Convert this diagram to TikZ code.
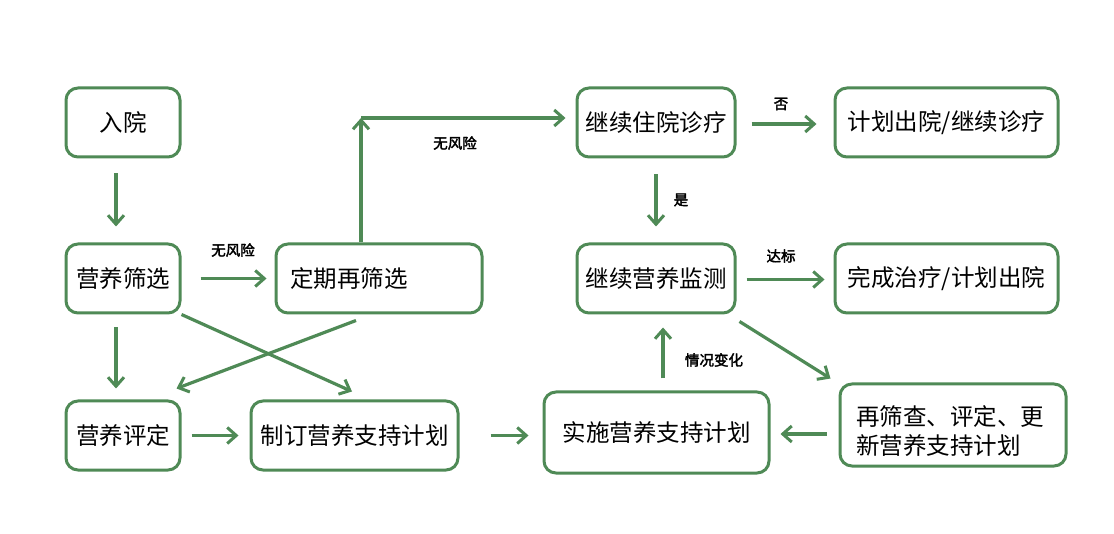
\documentclass[tikz,border=0pt]{standalone}
\usepackage{fontspec}
\setmainfont{Noto Sans CJK SC}
\newfontfamily\cjkb[FakeBold=2.5]{Noto Sans CJK SC}
\usetikzlibrary{arrows.meta}
\definecolor{gline}{HTML}{4F8A56}
\tikzset{
  box/.style={draw=gline, line width=3pt, rounded corners=12pt, fill=white,
    font=\fontsize{23.5}{28}\selectfont, inner sep=0pt, align=center},
  arr/.style={draw=gline, line width=3.2pt, -{Straight Barb[length=9pt,width=16pt,line width=3pt]}},
  lab/.style={font=\cjkb\fontsize{14.5}{16}\selectfont, inner sep=0pt},
}
\begin{document}
\begin{tikzpicture}[x=1pt,y=-1pt]
\useasboundingbox (0,0) rectangle (1114,534);
\node[box, minimum width=114pt, minimum height=69pt] (ry) at (123,122.5) {入院};
\node[box, minimum width=114pt, minimum height=69pt] (sx) at (123,278.5) {营养筛选};
\node[box, minimum width=114pt, minimum height=69pt] (pd) at (123,435.5) {营养评定};
\node[box, minimum width=206pt, minimum height=69pt, text width=178pt, align=left] (dq) at (379,278.5) {定期再筛选};
\node[box, minimum width=207pt, minimum height=69pt] (zd) at (354.5,435.5) {制订营养支持计划};
\node[box, minimum width=225pt, minimum height=81pt] (ss) at (656.5,432.5) {实施营养支持计划};
\node[box, minimum width=158pt, minimum height=69pt] (jx) at (656,122.5) {继续住院诊疗};
\node[box, minimum width=223pt, minimum height=69pt] (jh) at (946.5,122.5) {计划出院/继续诊疗};
\node[box, minimum width=158pt, minimum height=69pt] (jc) at (656,278.5) {继续营养监测};
\node[box, minimum width=223pt, minimum height=69pt] (wc) at (946.5,278.5) {完成治疗/计划出院};
\node[box, minimum width=226pt, minimum height=82pt, text width=194pt, align=left, font=\fontsize{23.5}{29}\selectfont] (zs) at (953,425) {\rule{0pt}{32pt}再筛查、评定、更\\新营养支持计划};

\coordinate (corner) at (361,118);

\draw[arr] ([xshift=-7pt,yshift=-15pt]ry.south) -- ([xshift=-7pt,yshift=16pt]sx.north);
\draw[arr] ([xshift=19pt]sx.east) -- ([xshift=-8pt]dq.west);
\draw[arr] ([xshift=-7pt,yshift=-13pt]sx.south) -- ([xshift=-7pt,yshift=11pt]pd.north);
\draw[arr] (sx.south east) -- ([xshift=-2.5pt,yshift=8pt]zd.north);
\draw[arr] ([xshift=-23pt,yshift=-6pt]dq.south) -- ([xshift=-5pt,yshift=11pt]pd.north east);
\draw[arr] ([xshift=-18pt]dq.north) -- (corner);
\draw[arr] (corner) -- ([xshift=-10pt,yshift=4.5pt]jx.west);
\draw[arr] ([xshift=10pt]pd.east) -- ([xshift=-11pt]zd.west);
\draw[arr] ([xshift=31pt]zd.east) -- ([xshift=-14pt,yshift=-3pt]ss.west);
\draw[arr] ([xshift=6.5pt,yshift=12pt]ss.north) -- ([xshift=7pt,yshift=-13pt]jc.south);
\draw[arr] ([yshift=-16pt]jx.south) -- ([yshift=16pt]jc.north);
\draw[arr] ([xshift=15pt,yshift=-1.5pt]jx.east) -- ([xshift=-17pt,yshift=-1.5pt]jh.west);
\draw[arr] ([xshift=10pt,yshift=-1pt]jc.east) -- ([xshift=-9pt,yshift=-1pt]wc.west);
\draw[arr] ([xshift=3pt,yshift=-7pt]jc.south east) -- ([xshift=-8pt,yshift=4pt]zs.north west);
\draw[arr] ([xshift=-12pt,yshift=-9pt]zs.west) -- ([xshift=10pt,yshift=-1.5pt]ss.east);

\node[lab] (l1) at (233,250) {无风险};
\node[lab] (l2) at (455,143) {无风险};
\node[lab] (l3) at (781,104) {否};
\node[lab] (l4) at (681,200) {是};
\node[lab] (l5) at (781,256) {达标};
\node[lab] (l6) at (714,360) {情况变化};
\end{tikzpicture}
\end{document}
